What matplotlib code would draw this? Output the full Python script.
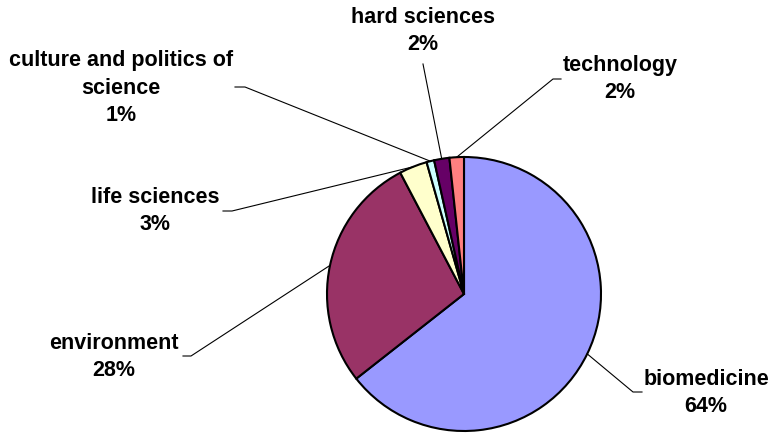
import numpy as np
from matplotlib import pyplot as plt

categories = ["biomedicine", "environment", "life sciences",
              "culture and politics of\nscience", "hard sciences", "technology"]
shares = [64.4, 27.9, 3.3, 0.9, 1.8, 1.7]
colours = ["#9999FF", "#993366", "#FFFFCC", "#CCFFFF", "#660066", "#FF8080"]

W, H = 770, 435
centre = (464, 295)
radius = 137

# label centres and leader elbow points, pixel coords from top-left
label_pos = [(706, 393), (114, 357), (155, 211), (121, 88), (423, 31), (620, 79)]
elbows = [[(642, 393), (633, 393)],
          [(183, 357), (191, 357)],
          [(223, 212), (232, 212)],
          [(235, 88), (245, 88)],
          [(423, 65)],
          [(561, 80), (553, 80)]]

fig = plt.figure(figsize=(W / 100, H / 100), dpi=100)
ax = fig.add_axes([0, 0, 1, 1])

wedges, _ = ax.pie(shares, colors=colours, startangle=90, counterclock=False,
                   center=(centre[0], H - centre[1]), radius=radius,
                   wedgeprops=dict(edgecolor="black", linewidth=1.5))

for w, name, v, pos, elb in zip(wedges, categories, shares, label_pos, elbows):
    mid = np.deg2rad((w.theta1 + w.theta2) / 2)
    ex = centre[0] + radius * np.cos(mid)
    ey = H - centre[1] + radius * np.sin(mid)
    xs = [p[0] for p in elb] + [ex]
    ys = [H - p[1] for p in elb] + [ey]
    ax.plot(xs, ys, color="black", linewidth=0.8)
    ax.text(pos[0], H - pos[1], f"{name}\n{round(v)}%", ha="center", va="center",
            multialignment="center", fontsize=15.5, fontweight="bold",
            family="Liberation Sans", linespacing=1.42)

ax.set_xlim(0, W)
ax.set_ylim(0, H)
ax.axis("off")

plt.savefig("out.png", dpi=100)
